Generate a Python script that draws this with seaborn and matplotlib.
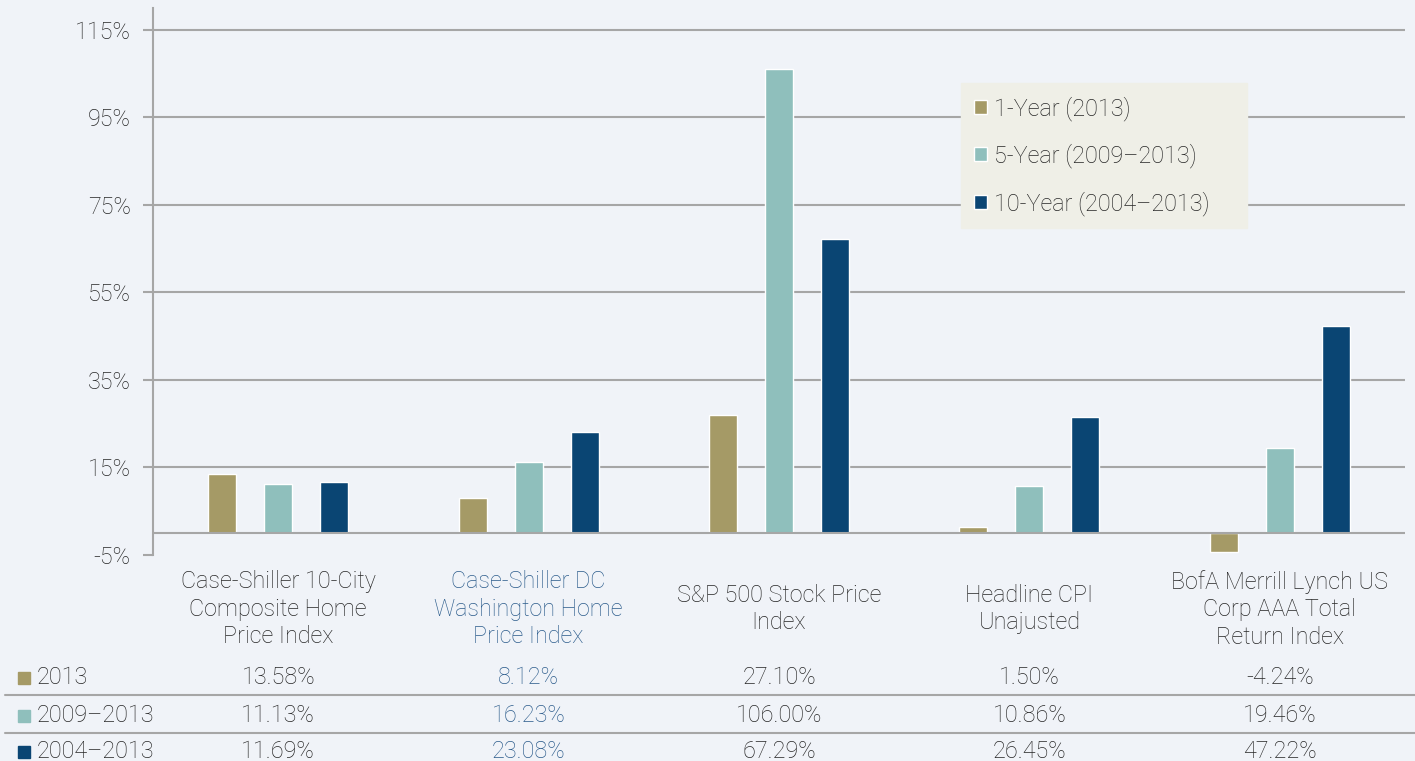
import numpy as np
import pandas as pd
import matplotlib
matplotlib.use('Agg')
import matplotlib.pyplot as plt
import matplotlib.transforms as mtransforms
from matplotlib.lines import Line2D
from matplotlib.patches import Rectangle
import seaborn as sns

categories = ['Case-Shiller 10-City\nComposite Home\nPrice Index',
              'Case-Shiller DC\nWashington Home\nPrice Index',
              'S&P 500 Stock Price\nIndex',
              'Headline CPI\nUnajusted',
              'BofA Merrill Lynch US\nCorp AAA Total\nReturn Index']
series_names = ['1-Year (2013)', '5-Year (2009\u20132013)', '10-Year (2004\u20132013)']
row_labels = ['2013', '2009\u20132013', '2004\u20132013']
one_year = [13.58, 8.12, 27.10, 1.50, -4.24]
five_year = [11.13, 16.23, 106.00, 10.86, 19.46]
ten_year = [11.69, 23.08, 67.29, 26.45, 47.22]
y_ticks = [-5, 15, 35, 55, 75, 95, 115]

colors = ['#a59a66', '#8fbfbc', '#0a4573']
bg = '#f0f3f8'
text_col = '#262626'
blue_txt = '#2c5c8c'
grid_col = '#a6a6a6'
fs = 16.8

W, H = 1415, 761

sns.set_theme(style='white')
plt.rcParams['font.family'] = ['Roboto', 'DejaVu Sans']
plt.rcParams['font.weight'] = 'light'
plt.rcParams['text.color'] = text_col

rows = []
for vals, name in zip([one_year, five_year, ten_year], series_names):
    for cat, v in zip(categories, vals):
        rows.append({'category': cat, 'period': name, 'value': v})
df = pd.DataFrame(rows)

fig = plt.figure(figsize=(W / 100, H / 100), dpi=100, facecolor=bg)
ax = fig.add_axes([153 / W, 1 - 555 / H, (1405 - 153) / W, (555 - 8) / H])
ax.set_facecolor(bg)

sns.barplot(data=df, x='category', y='value', hue='period', order=categories,
            hue_order=series_names, palette=colors, saturation=1,
            width=0.67, gap=0.5, errorbar=None, ax=ax, zorder=3)

ax.set_xlim(-0.5, 4.5)
ax.set_ylim(-5, 120)
ax.set_yticks(y_ticks)
ax.set_yticklabels(['%d%%' % t for t in y_ticks], fontsize=fs, color=text_col)
ax.set_xlabel('')
ax.set_ylabel('')

for s in ['top', 'right', 'bottom']:
    ax.spines[s].set_visible(False)
ax.spines['left'].set_color(grid_col)
ax.spines['left'].set_linewidth(1.5)

ax.tick_params(axis='y', length=7, width=1.5, color=grid_col, pad=9, left=True)
ax.tick_params(axis='x', length=0, pad=39)

for t in y_ticks[1:]:
    ax.axhline(t, color=grid_col, lw=1.5, zorder=1)
ax.axhline(0, color=grid_col, lw=1.5, zorder=4)

ax.set_xticks(range(len(categories)))
ax.set_xticklabels(categories, fontsize=fs, color=text_col, va='center',
                   linespacing=1.25)
ax.get_xticklabels()[1].set_color(blue_txt)

handles, labels = ax.get_legend_handles_labels()
leg = ax.legend(handles, labels, loc='upper left',
                bbox_to_anchor=(961 / W, 1 - 225 / H, (1247 - 961) / W, (225 - 83) / H),
                bbox_transform=fig.transFigure, mode='expand', borderaxespad=0,
                fontsize=fs, frameon=True, fancybox=False, framealpha=1,
                facecolor='#efefe7', edgecolor='#efefe7', handlelength=0.57,
                handleheight=0.57, handletextpad=0.28, labelspacing=0.98,
                borderpad=0.55)
for t in leg.get_texts():
    t.set_color(text_col)

# data table under the chart
trans = mtransforms.blended_transform_factory(ax.transData, fig.transFigure)
row_y = [678, 716, 752]
for r, (vals, lab) in enumerate(zip([one_year, five_year, ten_year], row_labels)):
    y = 1 - row_y[r] / H
    fig.add_artist(Rectangle((18 / W, y - 6 / H), 12 / W, 12 / H,
                             transform=fig.transFigure, color=colors[r]))
    fig.text(37 / W, y, lab, fontsize=fs, va='center', ha='left', color=text_col)
    for i, v in enumerate(vals):
        ax.text(i, y, '%.2f%%' % v, transform=trans, fontsize=fs, ha='center',
                va='center', color=blue_txt if i == 1 else text_col, clip_on=False)

for ly in [695, 733]:
    fig.add_artist(Line2D([5 / W, 1], [1 - ly / H, 1 - ly / H],
                          transform=fig.transFigure, color=grid_col, lw=1.5))

fig.savefig('out.png', dpi=100, facecolor=bg)
